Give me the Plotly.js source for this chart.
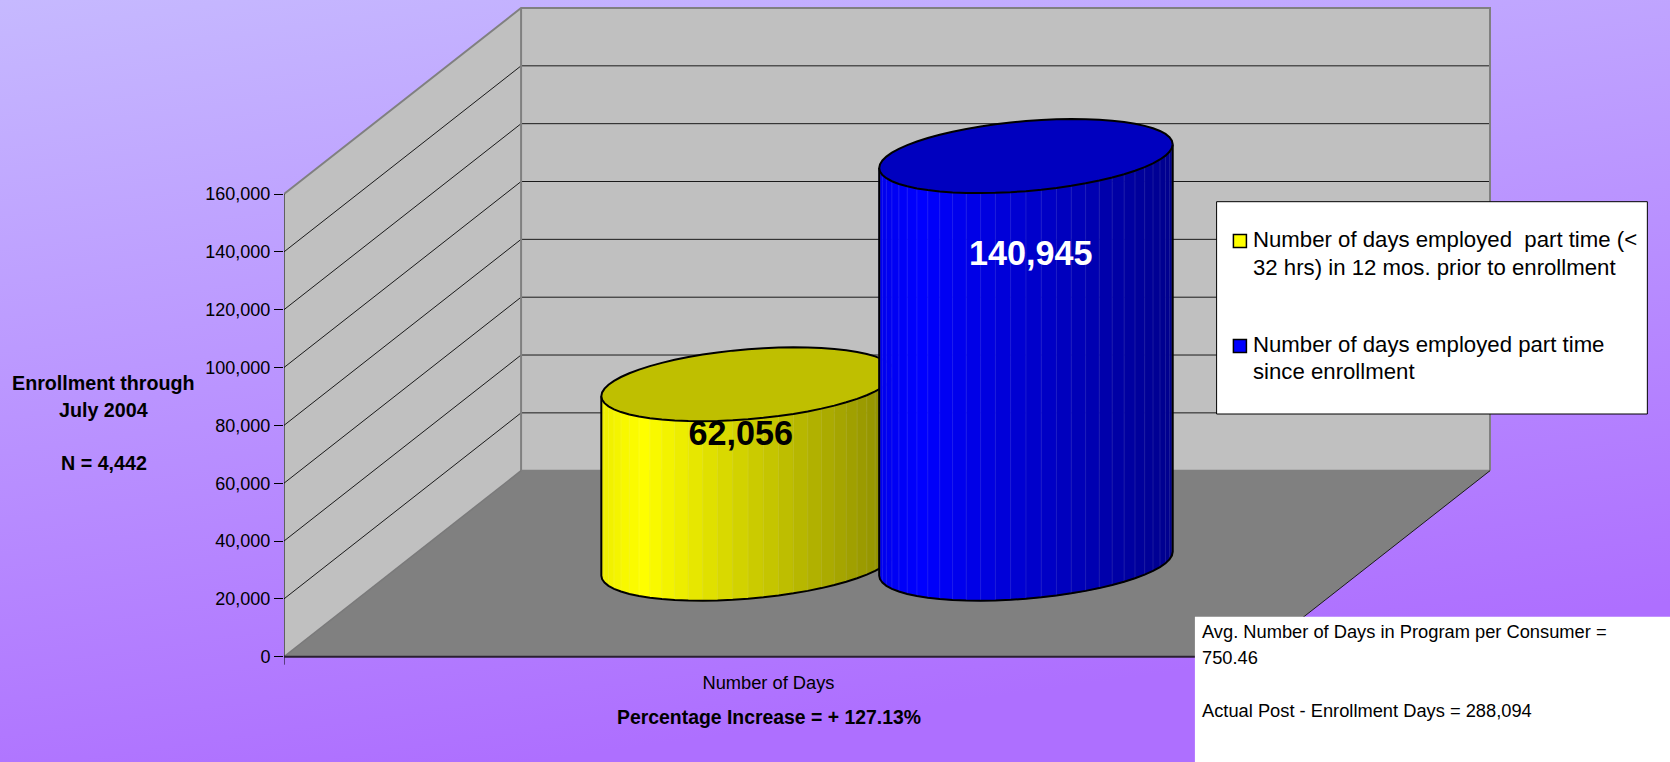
<!DOCTYPE html>
<html>
<head>
<meta charset="utf-8">
<script src="https://cdn.plot.ly/plotly-3.0.1.min.js"></script>
<style>
html,body{margin:0;padding:0;width:1670px;height:762px;overflow:hidden;background:linear-gradient(172deg,#c6b9ff 0%,#ae6fff 84%,#ae6fff 100%);}
#chart{width:1670px;height:762px;}
</style>
</head>
<body>
<div id="chart"></div>
<script>
// ---------- data ----------
var categories = ['Number of Days'];
var seriesNames = ['Number of days employed  part time (<', 'Number of days employed part time'];
var seriesValues = [62056, 140945];
var axisTicks = [0, 20000, 40000, 60000, 80000, 100000, 120000, 140000, 160000];
var sideNote = ['Enrollment through', 'July 2004', 'N = 4,442'];
var footNote = 'Percentage Increase = + 127.13%';
var boxNote = ['Avg. Number of Days in Program per Consumer =', '750.46', 'Actual Post - Enrollment Days = 288,094'];
var legendLines = [
  ['Number of days employed  part time (<', '32 hrs) in 12 mos. prior to enrollment'],
  ['Number of days employed part time', 'since enrollment']
];

// ---------- geometry of the 3-D box ----------
var W = 1670, H = 762;
var L = 284.4, FRONT_W = 968.6, DEPTH_X = 237, DEPTH_Y = 186;
var Y0 = 656.7, PX_PER_VAL = 462.7 / 160000;
var PT = 2, PB = 670, PR = 1500;
var mT = PT, mB = H - PB, mR = W - PR, mL = L;
var xMax = (PR - L) / FRONT_W;
var yLow = -(PB - Y0) / PX_PER_VAL, yHigh = (Y0 - PT) / PX_PER_VAL;
var DX = DEPTH_X / FRONT_W, DV = DEPTH_Y / PX_PER_VAL;
var vMax = axisTicks[axisTicks.length - 1];

function px2x(p) { return (p - L) / FRONT_W; }
function px2y(p) { return (Y0 - p) / PX_PER_VAL; }
function paperX(p) { return (p - mL) / (W - mL - mR); }
function paperY(p) { return 1 - (p - mT) / (H - mT - mB); }
function pr(x, d, v) { return [x + d * DX, v + d * DV]; }
function poly(pts) { return { x: pts.map(function (p) { return p[0]; }), y: pts.map(function (p) { return p[1]; }) }; }

var traces = [];
function fillPoly(pts, color, lineColor, lineW) {
  var c = poly(pts.concat([pts[0]]));
  traces.push({ type: 'scatter', mode: 'lines', x: c.x, y: c.y, fill: 'toself', fillcolor: color,
    line: { color: lineColor || color, width: lineW === undefined ? 0 : lineW, simplify: false },
    hoverinfo: 'skip', showlegend: false, cliponaxis: false });
}
function linePath(pts, color, width) {
  var c = poly(pts);
  traces.push({ type: 'scatter', mode: 'lines', x: c.x, y: c.y, line: { color: color, width: width, simplify: false },
    hoverinfo: 'skip', showlegend: false, cliponaxis: false, connectgaps: false });
}

// walls and floor
fillPoly([pr(0, 0, 0), pr(0, 1, 0), pr(0, 1, vMax), pr(0, 0, vMax)], '#c0c0c0');
fillPoly([pr(0, 1, 0), pr(1, 1, 0), pr(1, 1, vMax), pr(0, 1, vMax)], '#c0c0c0');
fillPoly([pr(0, 0, 0), pr(1, 0, 0), pr(1, 1, 0), pr(0, 1, 0)], '#808080');

// gridlines
axisTicks.forEach(function (v) {
  if (v === 0 || v === vMax) return;
  linePath([pr(0, 0, v), pr(0, 1, v), pr(1, 1, v)], '#1a1a1a', 1);
});
// wall edges
linePath([pr(0, 0, vMax), pr(0, 1, vMax), pr(1, 1, vMax), pr(1, 1, 0)], '#808080', 2);
linePath([pr(0, 1, vMax), pr(0, 1, 0), pr(1, 1, 0)], '#808080', 2);
linePath([pr(0, 0, 0), pr(0, 1, 0)], '#7a7a7a', 1.5);
linePath([pr(1, 0, 0), pr(1, 1, 0)], '#1a1a1a', 1);
// front axis lines
linePath([pr(0, 0, vMax), pr(0, 0, 0), [0, -8 / PX_PER_VAL]], '#000000', 1);
linePath([pr(0, 0, 0), pr(1, 0, 0)], '#2a2030', 2);

// ---------- cylinders ----------
var R = 0.1434, RD = 0.199;
var centres = [0.5 - R, 0.5 + R];
var baseColors = [[255, 255, 0], [0, 0, 255]];
var FACETS = 30;
var phi = Math.atan2(RD * DX, R);

function cyl(xc, t, v) { return pr(xc + R * Math.cos(t), 0.5 + RD * Math.sin(t), v); }
function shade(rgb, k) { return 'rgb(' + rgb.map(function (c) { return Math.round(c * k); }).join(',') + ')'; }
function facetShade(u) {
  if (u < 0.14) return 0.93 + 0.07 * (u / 0.14);
  return 1 - 0.45 * (u - 0.14) / 0.86;
}

seriesValues.forEach(function (val, i) {
  var xc = centres[i], col = baseColors[i];
  var ts = [];
  for (var k = 0; k <= FACETS; k++) ts.push(phi + Math.PI + Math.PI * k / FACETS);
  var xLeft = cyl(xc, ts[0], 0)[0], xRight = cyl(xc, ts[FACETS], 0)[0];
  var seamX = [], seamY = [];
  for (var s = 0; s < FACETS; s++) {
    var a = cyl(xc, ts[s], 0), b = cyl(xc, ts[s + 1], 0), c = cyl(xc, ts[s + 1], val), d = cyl(xc, ts[s], val);
    var u = ((a[0] + b[0]) / 2 - xLeft) / (xRight - xLeft);
    fillPoly([a, b, c, d], shade(col, facetShade(u)), shade(col, facetShade(u)), 0.7);
    if (s > 0) { seamX.push(a[0], d[0], null); seamY.push(a[1], d[1], null); }
  }
  traces.push({ type: 'scatter', mode: 'lines', x: seamX, y: seamY,
    line: { color: 'rgba(255,255,255,0.1)', width: 1 }, hoverinfo: 'skip', showlegend: false, cliponaxis: false });
  // silhouette
  var sil = [cyl(xc, ts[0], val)];
  ts.forEach(function (t) { sil.push(cyl(xc, t, 0)); });
  sil.push(cyl(xc, ts[FACETS], val));
  linePath(sil, '#000000', 2);
  // top ellipse
  var top = [];
  for (var j = 0; j < 2 * FACETS; j++) top.push(cyl(xc, phi + Math.PI * j / FACETS, val));
  fillPoly(top, shade(col, 0.75), '#000000', 2);
});

// value labels
var labelPx = [[741, 436], [1031, 256]];
var labelColors = ['#000000', '#ffffff'];
seriesValues.forEach(function (val, i) {
  traces.push({ type: 'scatter', mode: 'text', x: [px2x(labelPx[i][0])], y: [px2y(labelPx[i][1])],
    text: [val.toLocaleString('en-US')], textposition: 'middle center',
    textfont: { family: 'Liberation Sans', size: 34.2, color: labelColors[i], weight: 700 },
    hoverinfo: 'skip', showlegend: false, cliponaxis: false, name: seriesNames[i] });
});

// ---------- text and boxes ----------
var FONT = 'Liberation Sans';
function note(text, px, py, size, bold, anchor) {
  return { xref: 'paper', yref: 'paper', x: paperX(px), y: paperY(py), text: bold ? '<b>' + text + '</b>' : text,
    showarrow: false, xanchor: anchor || 'center', yanchor: 'middle', borderpad: 0,
    font: { family: FONT, size: size, color: '#000000' } };
}
function box(x0, y0, x1, y1, fill, lineColor, lineW) {
  return { type: 'rect', xref: 'paper', yref: 'paper', x0: paperX(x0), x1: paperX(x1), y0: paperY(y0), y1: paperY(y1),
    fillcolor: fill, line: { color: lineColor || fill, width: lineW || 0 }, layer: 'above' };
}
var shapes = [
  box(1216.7, 201.7, 1647.3, 414, '#ffffff', '#000000', 1),
  box(1233.5, 234.5, 1246.5, 247.5, '#ffff00', '#000000', 1.5),
  box(1233.5, 339.5, 1246.5, 352.5, '#0000ff', '#000000', 1.5),
  box(1195, 616.7, 1670, 762, '#ffffff')
];
var annotations = [
  note(sideNote[0], 104, 383, 19.7, true),
  note(sideNote[1], 104, 410, 19.7, true),
  note(sideNote[2], 104, 463, 19.7, true),
  note(footNote, 769, 716.5, 19.4, true),
  note(legendLines[0][0], 1252.5, 239.5, 22.2, false, 'left'),
  note(legendLines[0][1], 1252.5, 267, 22.2, false, 'left'),
  note(legendLines[1][0], 1252.5, 344, 22.2, false, 'left'),
  note(legendLines[1][1], 1252.5, 371.5, 22.2, false, 'left'),
  note(boxNote[0], 1201.5, 631.5, 18.3, false, 'left'),
  note(boxNote[1], 1201.5, 657.5, 18.3, false, 'left'),
  note(boxNote[2], 1201.5, 710, 18.3, false, 'left')
];

var layout = {
  width: W, height: H, autosize: false,
  margin: { l: mL, r: mR, t: mT, b: mB, pad: 0 },
  paper_bgcolor: 'rgba(0,0,0,0)', plot_bgcolor: 'rgba(0,0,0,0)',
  showlegend: false,
  font: { family: FONT, color: '#000000' },
  xaxis: { range: [0, xMax], showgrid: false, zeroline: false, showline: false, fixedrange: true,
    tickmode: 'array', tickvals: [0.5], ticktext: categories, ticks: '', tickfont: { family: FONT, size: 18.3, color: '#000' } },
  yaxis: { range: [yLow, yHigh], showgrid: false, zeroline: false, showline: false, fixedrange: true,
    tickmode: 'array', tickvals: axisTicks, ticktext: axisTicks.map(function (v) { return v.toLocaleString('en-US'); }),
    ticks: 'outside', ticklen: 9, tickwidth: 1, tickcolor: '#000000', tickfont: { family: FONT, size: 18, color: '#000' } },
  shapes: shapes, annotations: annotations
};
Plotly.newPlot('chart', traces, layout, { displayModeBar: false, staticPlot: true });
</script>
</body>
</html>
